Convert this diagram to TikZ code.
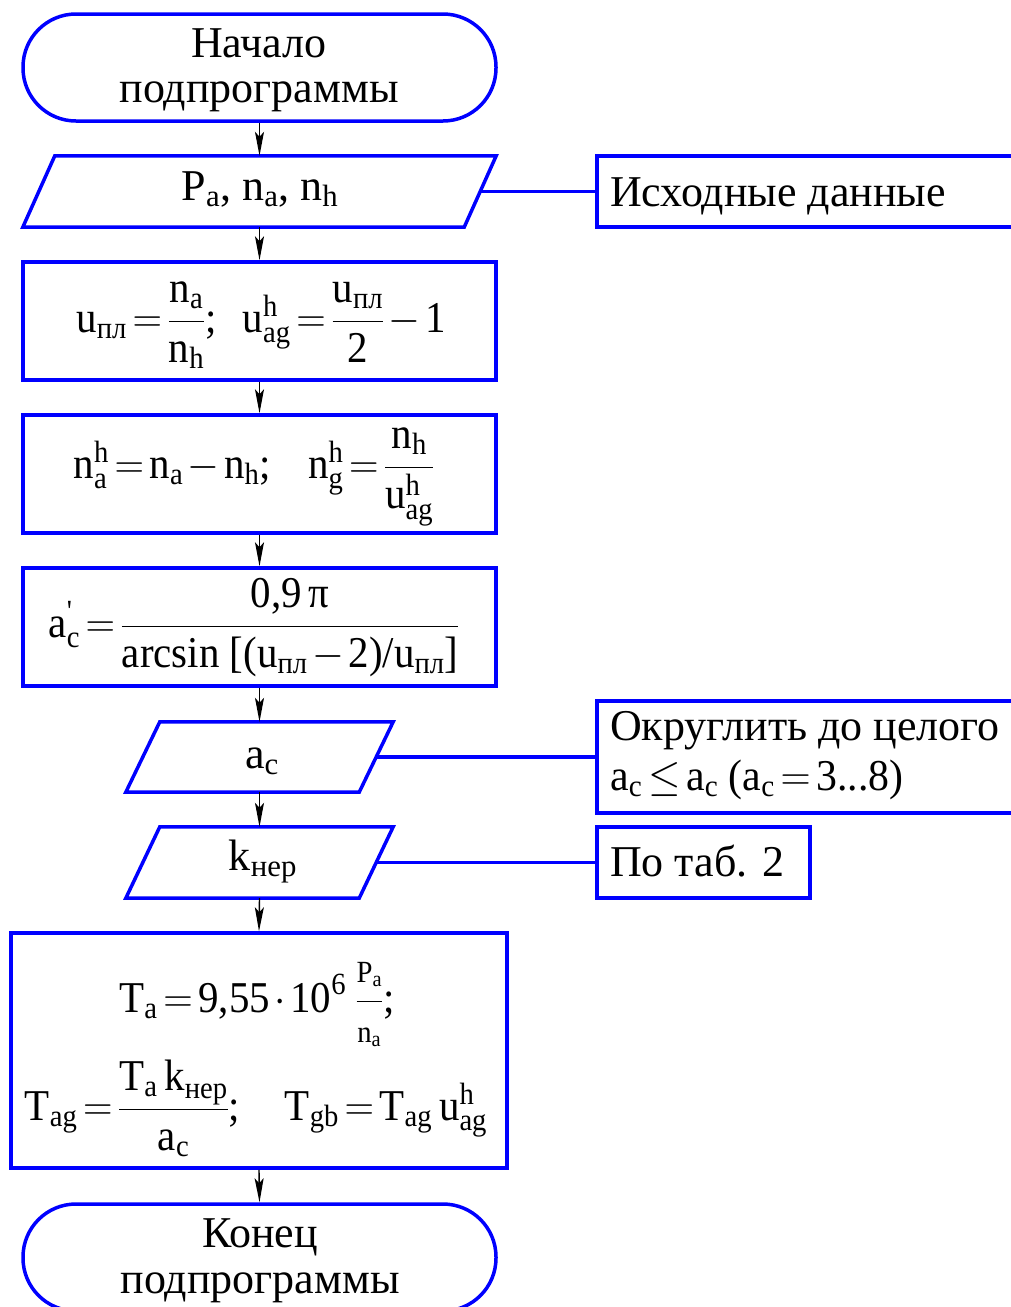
\RequirePackage{fix-cm}
\documentclass[tikz,border=0pt]{standalone}
\usepackage{amsmath}
\usepackage{graphicx}
\usepackage{fontspec}
\setmainfont{Liberation Serif}
\usetikzlibrary{arrows.meta}
\definecolor{fcblue}{RGB}{0,0,255}
\newcommand{\tx}[1]{\text{#1}}
\newcommand{\fm}[1]{\scalebox{0.93}[1]{$#1$}}
\begin{document}
\thickmuskip=2.5mu
\medmuskip=2mu
\begin{tikzpicture}[x=1pt,y=-1pt,
  every node/.style={font=\fontsize{44}{46}\selectfont, inner sep=0pt},
  term/.style={draw=fcblue, line width=3.5pt, rectangle, rounded corners=53pt, minimum width=473pt, minimum height=107pt},
  proc/.style={draw=fcblue, line width=3.5pt, rectangle, minimum width=473pt, minimum height=118pt},
  iobox/.style={rectangle, minimum height=71pt},
  bline/.style={draw=fcblue, line width=3.5pt, line join=miter},
  note/.style={draw=fcblue, line width=3.5pt, rectangle, anchor=west},
  txt/.style={anchor=base},
  ltxt/.style={anchor=base west},
  flow/.style={draw=black, line width=1.4pt, -{Stealth[length=24pt,width=9pt,inset=5pt]}},
  link/.style={draw=fcblue, line width=3.5pt}
]
\clip (0,0) rectangle (1011,1307);
% shapes
\node[term] (start) at (259.5,67.5) {};
\node[iobox, minimum width=473pt] (in1) at (259.5,191.5) {};
\node[note, minimum width=440pt, minimum height=71pt] (note1) at (595,191.5) {};
\node[proc] (b1) at (259.5,321) {};
\node[proc] (b2) at (259.5,474) {};
\node[proc] (b3) at (259.5,627) {};
\node[iobox, minimum width=267pt, minimum height=70pt] (in2) at (259.5,757) {};
\node[note, minimum width=440pt, minimum height=112pt] (note2) at (595,757) {};
\node[iobox, minimum width=267pt] (in3) at (259.5,862.5) {};
\node[note, minimum width=213pt, minimum height=71pt] (note3) at (595,862.5) {};
\node[proc, minimum width=496pt, minimum height=235pt] (b4) at (259,1050.5) {};
\node[term] (stop) at (259.5,1257.5) {};
% parallelogram outlines
\foreach \n/\s in {in1/32,in2/34,in3/34}{
  \draw[bline] ([xshift=\s pt]\n.north west) -- (\n.north east) -- ([xshift=-\s pt]\n.south east) -- (\n.south west) -- cycle;
}
\coordinate (in1r) at ([xshift=-16pt]in1.east);
\coordinate (in2r) at ([xshift=-17pt]in2.east);
\coordinate (in3r) at ([xshift=-17pt]in3.east);
% texts
\node[txt] (t1) at (259,57) {Начало};
\node[txt] (t2) at (259,102) {подпрограммы};
\node[txt] (t3) at (260,200) {$\mathrm{P_a}\tx{, }\mathrm{n_a}\tx{, }\mathrm{n_h}$};
\node[ltxt] (t4) at (610,206) {Исходные данные};
\node[txt] (t5) at (261,332) {\fm{\mathrm{u}_{\tx{пл}} = \dfrac{\mathrm{n_a}}{\mathrm{n_h}}\tx{;}\hspace{28pt} \mathrm{u^h_{ag}} = \dfrac{\mathrm{u}_{\tx{пл}}}{\mathrm{2}} - \mathrm{1}}};
\node[txt] (t6) at (254,478) {\fm{\mathrm{n^h_a} = \mathrm{n_a} - \mathrm{n_h}\tx{;}\hspace{40pt} \mathrm{n^h_g} = \dfrac{\mathrm{n_h}}{\mathrm{u^h_{ag}}}}};
\node[txt] (t7) at (254,637) {\fm{\mathrm{a}^{\tx{\textquotesingle}}_{\mathrm{c}} = \dfrac{\tx{0,9\,π}}{\tx{arcsin [(}\mathrm{u}_{\tx{пл}} - \mathrm{2}\tx{)/}\mathrm{u}_{\tx{пл}}\tx{]}}}};
\node[txt] (t8) at (262,768) {$\mathrm{a_c}$};
\node[txt] (t9) at (263,870) {$\mathrm{k}_{\tx{нер}}$};
\node[ltxt] (t10) at (610,740) {Округлить до целого};
\node[ltxt] (t11) at (610,790) {\scalebox{0.95}[1]{$\mathrm{a_c} \le \mathrm{a_c}\ \tx{(}\mathrm{a_c} = \tx{3...8)}$}};
\node[ltxt] (t12) at (610,876) {По таб. 2};
\node[txt] (t13) at (257,1012) {\fm{\mathrm{T_a} = \tx{9,55}\cdot\mathrm{10}^{\mathrm{6}}\hspace{10pt}\dfrac{\scriptstyle\mathrm{P_a}}{\scriptstyle\mathrm{n_a}}\tx{;}}};
\node[txt] (t14) at (256,1120) {\fm{\mathrm{T_{ag}} = \dfrac{\mathrm{T_a\,k}_{\tx{нер}}}{\mathrm{a_c}}\tx{;}\hspace{48pt} \mathrm{T_{gb}} = \mathrm{T_{ag}\,u^h_{ag}}}};
\node[txt] (t15) at (260,1247) {Конец};
\node[txt] (t16) at (260,1293) {подпрограммы};
% connectors
\draw[flow] (start.south) -- (in1.north);
\draw[flow] (in1.south) -- (b1.north);
\draw[flow] (b1.south) -- (b2.north);
\draw[flow] (b2.south) -- (b3.north);
\draw[flow] (b3.south) -- (in2.north);
\draw[flow] (in2.south) -- (in3.north);
\draw[flow] (in3.south) -- (b4.north);
\draw[flow] (b4.south) -- (stop.north);
\draw[link] (in1r) -- (note1.west);
\draw[link] (in2r) -- (note2.west);
\draw[link] (in3r) -- (note3.west);
\end{tikzpicture}
\end{document}
